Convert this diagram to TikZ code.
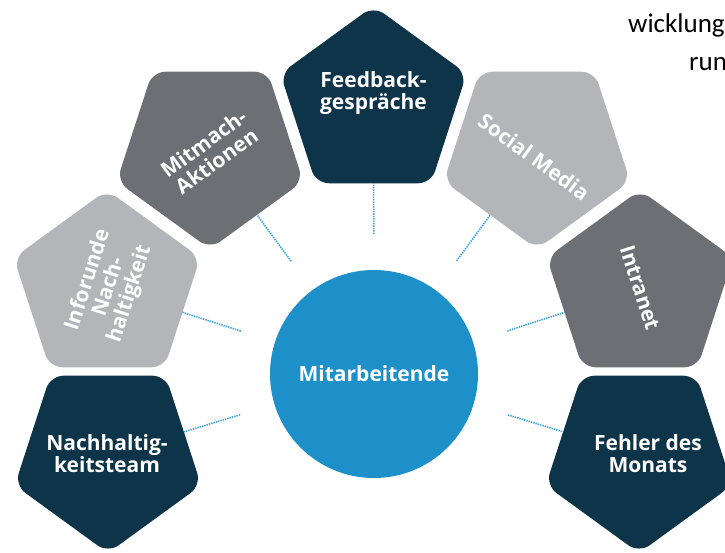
\documentclass[tikz,border=0pt]{standalone}
\usepackage{fontspec}
\setmainfont{Open Sans}
\newfontfamily\calib{Carlito}
\usetikzlibrary{shapes.geometric,calc}
\definecolor{navy}{HTML}{0E3449}
\definecolor{mgray}{HTML}{6C7074}
\definecolor{lgray}{HTML}{B4B5B9}
\definecolor{cblue}{HTML}{1E90C9}
\definecolor{dotblue}{HTML}{3AA2E0}
\begin{document}
\begin{tikzpicture}[x=1pt,y=1pt,
  pent/.style={regular polygon, regular polygon sides=5, minimum size=196pt,
    inner sep=0pt, outer sep=0pt, rounded corners=13pt, draw=none},
  lab/.style={text=white, font=\bfseries\fontsize{21}{22}\selectfont,
    align=center, inner sep=0pt},
  link/.style={draw=dotblue, line width=1.6pt, dash pattern=on 1.4pt off 1pt},
  side/.style={text=black, font=\calib\fontsize{27}{32}\selectfont,
    inner sep=0pt, anchor=base west}]
\useasboundingbox (0,0) rectangle (725,553);
\clip (0,0) rectangle (725,553);
% top-right clipped text
\node[side] (t0) at (673,558) {g};
\node[side] (t1) at (628,520) {wicklung};
\node[side] (t2) at (689,482) {run};
% pentagons
\node[pent, fill=navy, shape border rotate=180] (nach) at (108,98) {};
\node[pent, fill=lgray, shape border rotate=72] (info) at (107,265) {};
\node[pent, fill=mgray, shape border rotate=36] (mitm) at (210,402) {};
\node[pent, fill=navy] (feed) at (373.5,449) {};
\node[pent, fill=lgray, shape border rotate=-36] (soc) at (537,402) {};
\node[pent, fill=mgray, shape border rotate=-72] (intr) at (640,265) {};
\node[pent, fill=navy, shape border rotate=180] (fehl) at (639,98) {};
% centre
\node[circle, fill=cblue, minimum size=208pt, inner sep=0pt] (mit) at (374,179) {};
\node[lab] (mitl) at (374,179) {Mitarbeitende};
% connectors
\foreach \p in {nach,info,mitm,feed,soc,intr,fehl}
  \draw[link] ($(mit.center)!140pt!(\p.center)$) -- (\p);
% labels
\node[lab] (nachl) at (107,99) {Nachhaltig-\\keitsteam};
\node[lab, rotate=72] (infol) at (109,266) {Inforunde\\Nach-\\haltigkeit};
\node[lab, rotate=36] (mitml) at (210,401) {Mitmach-\\Aktionen};
\node[lab] (feedl) at (373.5,460) {Feedback-\\gespräche};
\node[lab, rotate=-36] (socl) at (534,396) {Social Media};
\node[lab, rotate=-72] (intrl) at (640,265) {Intranet};
\node[lab] (fehll) at (648,99) {Fehler des\\Monats};
\end{tikzpicture}
\end{document}
